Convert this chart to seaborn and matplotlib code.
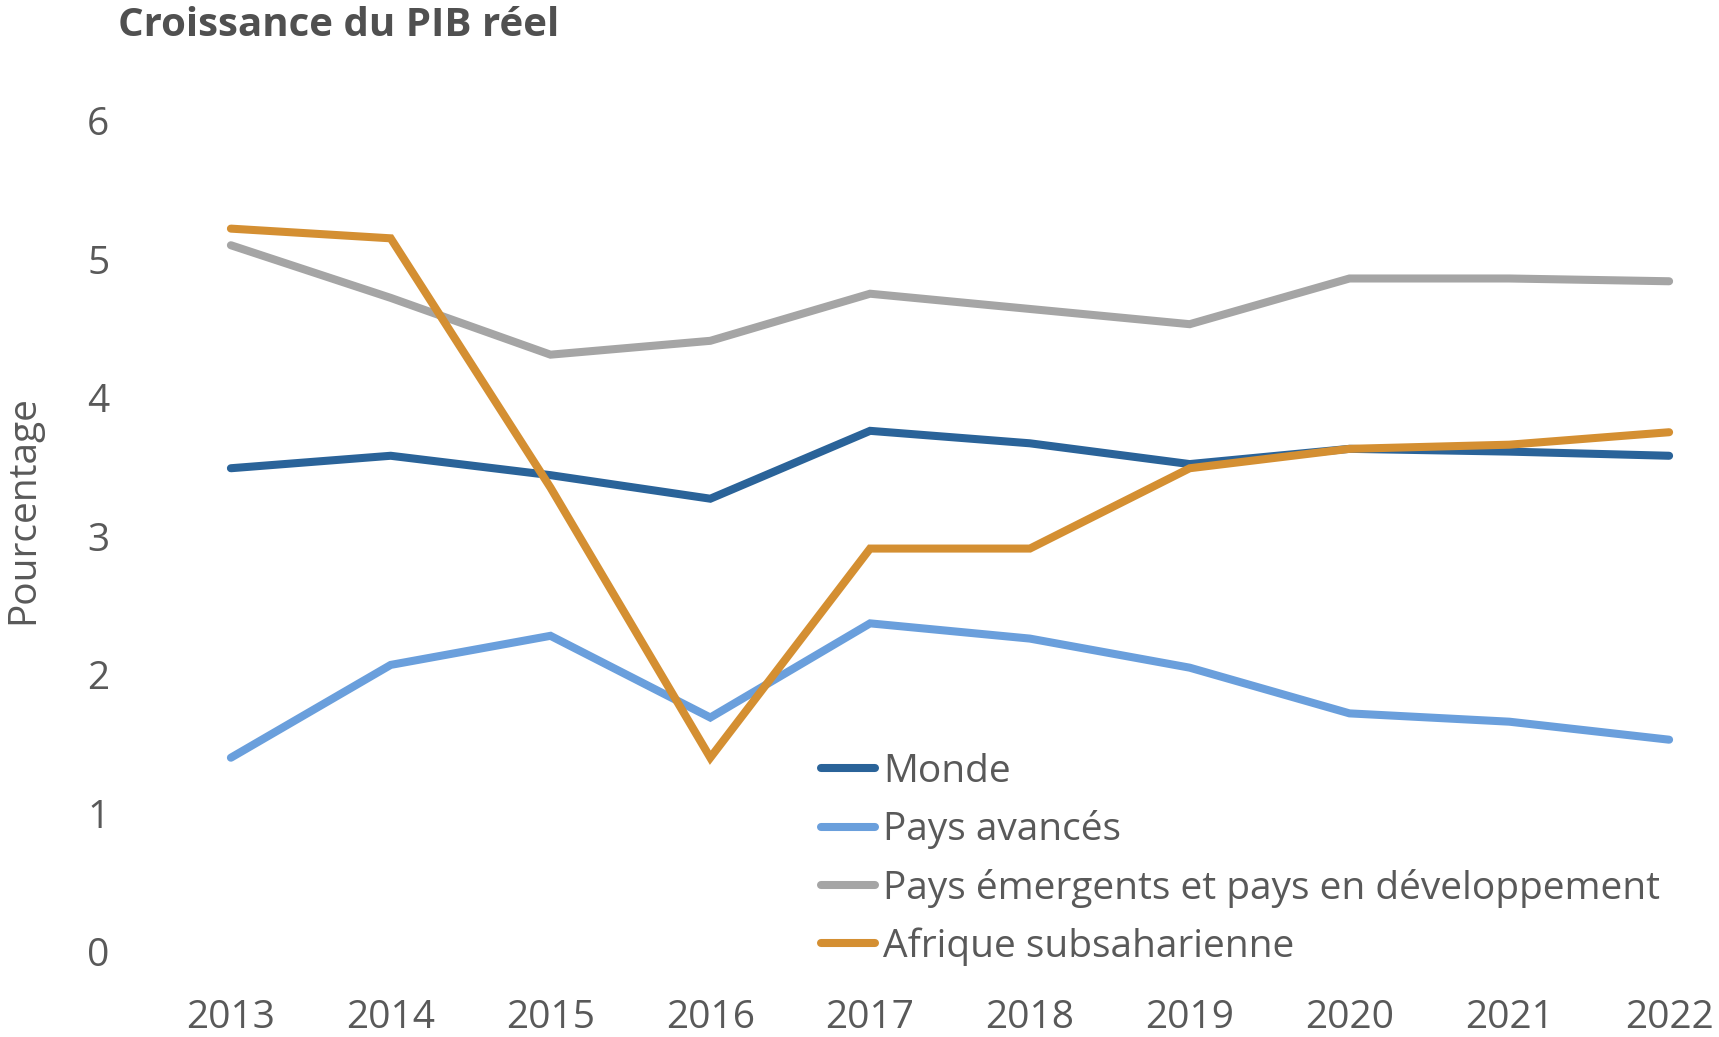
import matplotlib
matplotlib.use("Agg")
import matplotlib.pyplot as plt
import seaborn as sns
import pandas as pd

years = [2013, 2014, 2015, 2016, 2017, 2018, 2019, 2020, 2021, 2022]
monde = [3.49, 3.58, 3.44, 3.27, 3.76, 3.67, 3.52, 3.63, 3.61, 3.58]
avances = [1.40, 2.07, 2.28, 1.69, 2.37, 2.26, 2.05, 1.72, 1.66, 1.53]
emergents = [5.10, 4.72, 4.31, 4.41, 4.75, 4.64, 4.53, 4.86, 4.86, 4.84]
afrique = [5.22, 5.15, 3.35, 1.40, 2.91, 2.91, 3.49, 3.63, 3.66, 3.75]

series_names = ["Monde", "Pays avancés",
                "Pays émergents et pays en développement",
                "Afrique subsaharienne"]
series_values = [monde, avances, emergents, afrique]
colors = ["#2A6399", "#6A9FDC", "#A5A5A5", "#D48F32"]

rows = []
for name, vals in zip(series_names, series_values):
    for y, v in zip(years, vals):
        rows.append({"Année": y, "Valeur": v, "Série": name})
df = pd.DataFrame(rows)

sns.set_theme(style="white")
plt.rcParams['font.family'] = ['Open Sans', 'DejaVu Sans']
text_color = "#595959"

fig = plt.figure(figsize=(17.19, 10.37), dpi=100)
ax = fig.add_axes([151 / 1719, (1037 - 951.6) / 1037, 1598 / 1719, (951.6 - 120.6) / 1037])

sns.lineplot(data=df, x="Année", y="Valeur", hue="Série", hue_order=series_names,
             palette=colors, linewidth=5.8, ax=ax, legend=True,
             solid_capstyle="round", solid_joinstyle="miter")

ax.set_xlim(2012.5, 2022.5)
ax.set_ylim(0, 6)
ax.set_xticks(years)
ax.set_xticklabels([str(y) for y in years])
ax.set_yticks(range(0, 7))
for s in ax.spines.values():
    s.set_visible(False)
ax.tick_params(axis="both", length=0, labelsize=28, colors=text_color)
ax.tick_params(axis="y", pad=30)
ax.tick_params(axis="x", pad=34)
ax.set_xlabel("")
ax.set_ylabel("Pourcentage", fontsize=28, color=text_color)
ax.yaxis.set_label_coords((42 - 151) / 1598, (951.6 - 510) / 831)

handles, labels = ax.get_legend_handles_labels()
leg = ax.legend(handles, labels, loc="upper left",
                bbox_to_anchor=(821 / 1719, 1 - 753 / 1037),
                bbox_transform=fig.transFigure, frameon=False,
                fontsize=28, handlelength=1.4, handletextpad=0.2,
                labelspacing=0.5, borderaxespad=0, borderpad=0)
for t in leg.get_texts():
    t.set_color(text_color)
for h in leg.get_lines():
    h.set_linewidth(5.8)
    h.set_solid_capstyle("round")

fig.text(118 / 1719, 1 - 26 / 1037, "Croissance du PIB réel", fontsize=29,
         fontweight="bold", color="#505050", ha="left", va="center")

fig.savefig("out.png", dpi=100)
